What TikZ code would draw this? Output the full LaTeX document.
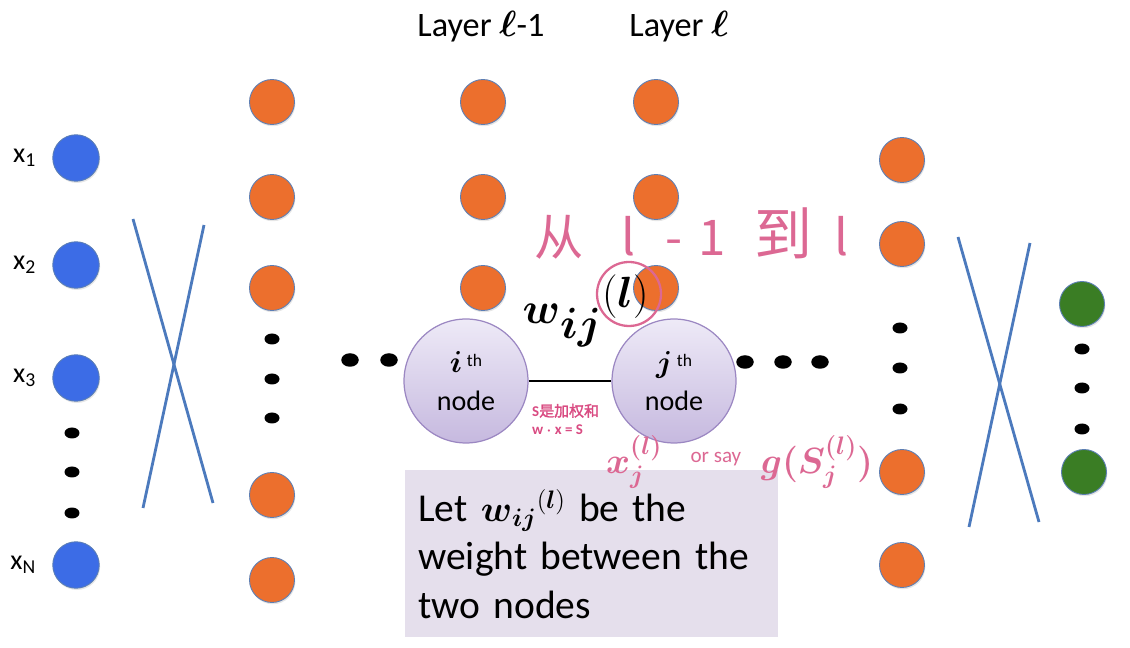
\documentclass[tikz,border=0pt]{standalone}
\usepackage{amsmath}
\usepackage{fontspec}
\setmainfont{Carlito}
\newfontfamily\cjk[AutoFakeBold=2]{Noto Sans CJK SC}
\usetikzlibrary{positioning, shapes.geometric, shadows}
\definecolor{inblue}{HTML}{3C6CE6}
\definecolor{hidorange}{HTML}{EC6F2D}
\definecolor{outgreen}{HTML}{3A7D24}
\definecolor{rimblue}{HTML}{5C7FB5}
\definecolor{crossblue}{HTML}{4C7ABD}
\definecolor{lilactop}{HTML}{EEEAF7}
\definecolor{lilacbot}{HTML}{C6B9DF}
\definecolor{lilacrim}{HTML}{9B87C2}
\definecolor{notefill}{HTML}{E5DFEC}
\definecolor{inkpink}{HTML}{DC6893}
\definecolor{sumpink}{HTML}{D94B82}
\newcommand{\wl}{{\boldsymbol{w}_{\boldsymbol{ij}}}}

\begin{document}
\begin{tikzpicture}[
    x=0.02cm, y=-0.02cm,
    every node/.style={font=\fontsize{15}{18}\selectfont},
    unit/.style={circle, minimum size=0.9cm, inner sep=0pt, draw=rimblue, line width=0.5pt,
       drop shadow={shadow xshift=0.5pt, shadow yshift=-1pt, opacity=0.2}},
    inunit/.style={unit, fill=inblue, minimum size=0.93cm},
    hidunit/.style={unit, fill=hidorange},
    outunit/.style={unit, fill=outgreen},
    dotnode/.style={ellipse, minimum width=0.3cm, minimum height=0.22cm, inner sep=0pt, fill=black},
    bigdot/.style={dotnode, minimum width=0.35cm, minimum height=0.27cm},
    bignode/.style={circle, minimum size=2.48cm, inner sep=0pt, draw=lilacrim, line width=0.7pt,
       top color=lilactop, bottom color=lilacbot, align=center, font=\fontsize{16}{22}\selectfont},
    cross/.style={crossblue, line width=1.6pt},
    notebox/.style={fill=notefill, minimum width=7.46cm, minimum height=3.34cm, text width=6.94cm,
       inner xsep=0.26cm, align=left, font=\fontsize{22.5}{27.5}\selectfont},
    ink/.style={text=inkpink},
]
\useasboundingbox (0,0) rectangle (1130,648);
% layer titles
\node (layprev) at (481,27) {\fontsize{19.5}{22}\selectfont Layer $\boldsymbol{\ell}$-1};
\node (laycur) at (679,27) {\fontsize{19.5}{22}\selectfont Layer $\boldsymbol{\ell}$};
% input units
\foreach \k/\yy in {1/158, 2/265, 3/378, N/565} {
  \node[inunit] (x\k) at (76,\yy) {};
  \node[left=0.2cm of x\k] (xl\k) {\fontsize{16}{18}\selectfont x\textsubscript{\k}};
}
\foreach \yy [count=\i] in {433, 472, 513}
  \node[dotnode] (xd\i) at (72,\yy) {};
% first hidden column
\foreach \yy [count=\i] in {102, 197, 288, 495, 580}
  \node[hidunit] (ha\i) at (272,\yy) {};
\foreach \yy [count=\i] in {339, 379, 418}
  \node[dotnode] (had\i) at (272,\yy) {};
% layers l-1 and l
\foreach \yy [count=\i] in {102, 197, 288} {
  \node[hidunit] (hb\i) at (483,\yy) {};
  \node[hidunit] (hc\i) at (656,\yy) {};
}
% last hidden column
\foreach \yy [count=\i] in {160, 244, 472, 565}
  \node[hidunit] (hd\i) at (902,\yy) {};
\foreach \yy [count=\i] in {328, 368, 409}
  \node[dotnode] (hdd\i) at (900,\yy) {};
% outputs
\node[outunit] (y1) at (1082,304) {};
\node[outunit] (y2) at (1084,472) {};
\foreach \yy [count=\i] in {349, 388, 429}
  \node[dotnode] (yd\i) at (1082,\yy) {};
% crossed weights
\draw[cross] (133,219) -- (213,503);
\draw[cross] (204,225) -- (143,508);
\draw[cross] (958,237) -- (1039,522);
\draw[cross] (1030,243) -- (969,527);
% the two nodes
\node[bignode] (inode) at (466,381) {$\boldsymbol{i}$\,\raisebox{0.45ex}{\fontsize{10}{12}\selectfont th}\\node};
\node[bignode] (jnode) at (674,381) {$\boldsymbol{j}$\,\raisebox{0.45ex}{\fontsize{10}{12}\selectfont th}\\node};
\draw[line width=1.6pt] (inode) -- (jnode);
\node[bigdot] (ld1) at (350,360) {};
\node[bigdot] (ld2) at (389,360) {};
\foreach \xx [count=\i] in {745, 783, 820}
  \node[bigdot] (rd\i) at (\xx,362) {};
% weight label
\node (wlab) at (586,311) {\fontsize{34}{36}\selectfont$\wl^{\mbox{\fontsize{23}{25}\selectfont$(\boldsymbol{l})$}}$};
\node[circle, draw=inkpink, line width=1.3pt, minimum size=1.28cm] (lring) at (629,294) {};
\node[text=sumpink, anchor=west, align=left, font=\fontsize{8.5}{10}\selectfont\bfseries] (sumnote) at (526,419)
   {S{\cjk 是加权和}\\w $\boldsymbol{\cdot}$ x = S};
% note box
\node[notebox, anchor=north west] (note) at (405,470) {Let $\wl^{(\boldsymbol{l})}$ be the\\weight between the\\two nodes};
% handwriting
\node[ink, anchor=west, font=\cjk\fontsize{28}{30}\selectfont] (fromto) at (528,234)
   {\rlap{从}\hspace{49.9pt}\rlap{l}\hspace{24.9pt}\rlap{-}\hspace{18.7pt}\rlap{1}\hspace{31.7pt}\rlap{\fontsize{33}{30}\selectfont 到}\hspace{45.5pt}l};
\node[ink, anchor=west, font=\fontsize{22}{24}\selectfont] (outnote) at (600,462)
   {\rlap{$\boldsymbol{x_j^{(l)}}$}\hspace{48pt}\rlap{\raisebox{0.6ex}{\fontsize{12}{12}\selectfont or say}}\hspace{40pt}$\boldsymbol{g(S_j^{(l)})}$};
\end{tikzpicture}
\end{document}
